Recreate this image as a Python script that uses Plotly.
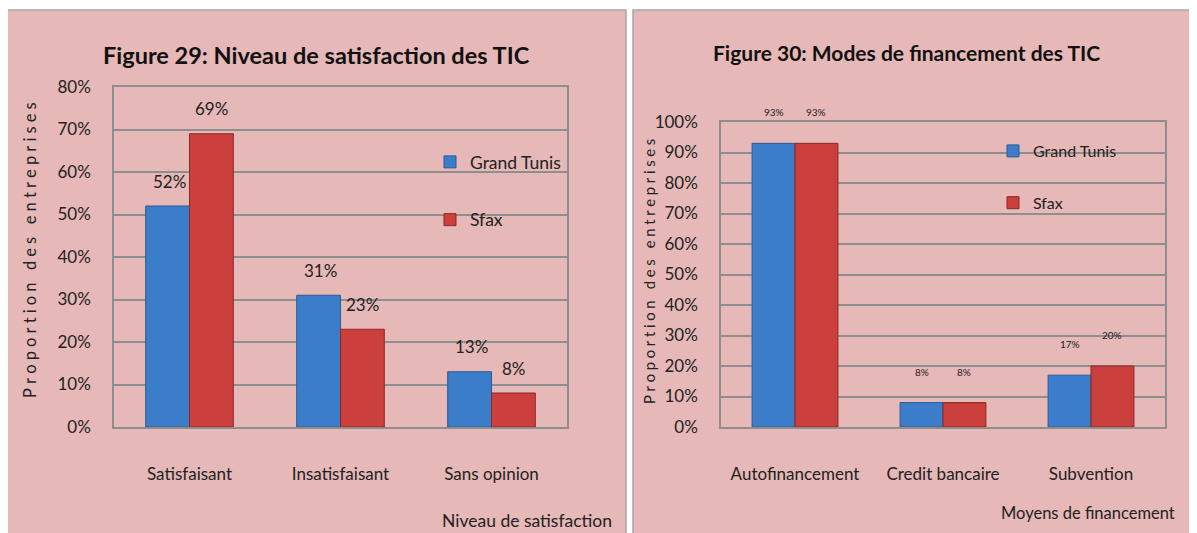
import plotly.graph_objects as go

W, H = 1197, 533

# data - figure 29
cats_sat = ['Satisfaisant', 'Insatisfaisant', 'Sans opinion']
gt_sat = [52, 31, 13]
sfax_sat = [69, 23, 8]

# data - figure 30
cats_fin = ['Autofinancement', 'Credit bancaire', 'Subvention']
gt_fin = [93, 8, 17]
sfax_fin = [93, 8, 20]

blue = '#3c7dca'
blue_edge = '#2a5a96'
red = '#cb3f3c'
red_edge = '#8c2725'
font = 'Lato'

# page body has an 8px margin, compensate so the picture lines up
OFF = 8


def px_x(v):
    return (v - OFF) / W


def px_y(v):
    return 1 - (v - OFF) / H


def spaced(s):
    return '\u2005'.join(s)


fig = go.Figure()

fig.add_trace(go.Bar(x=cats_sat, y=gt_sat, name='Grand Tunis', marker_color=blue,
                     marker_line=dict(color=blue_edge, width=1), xaxis='x', yaxis='y',
                     legend='legend', legendgroup='a'))
fig.add_trace(go.Bar(x=cats_sat, y=sfax_sat, name='Sfax', marker_color=red,
                     marker_line=dict(color=red_edge, width=1), xaxis='x', yaxis='y',
                     legend='legend', legendgroup='b'))
fig.add_trace(go.Bar(x=cats_fin, y=gt_fin, name='Grand Tunis', marker_color=blue,
                     marker_line=dict(color=blue_edge, width=1), xaxis='x2', yaxis='y2',
                     legend='legend2', legendgroup='c'))
fig.add_trace(go.Bar(x=cats_fin, y=sfax_fin, name='Sfax', marker_color=red,
                     marker_line=dict(color=red_edge, width=1), xaxis='x2', yaxis='y2',
                     legend='legend2', legendgroup='d'))

# value labels above bars
ann = []
for c, g, s in zip(cats_sat, gt_sat, sfax_sat):
    ann.append(dict(x=c, y=g, xref='x', yref='y', text=f'{g}%', showarrow=False,
                    xshift=-20, yshift=25, font=dict(size=17, color='#222')))
    ann.append(dict(x=c, y=s, xref='x', yref='y', text=f'{s}%', showarrow=False,
                    xshift=22, yshift=25, font=dict(size=17, color='#222')))
for c, g, s in zip(cats_fin, gt_fin, sfax_fin):
    ann.append(dict(x=c, y=g, xref='x2', yref='y2', text=f'{g}%', showarrow=False,
                    xshift=-21, yshift=31, font=dict(size=10, color='#222')))
    ann.append(dict(x=c, y=s, xref='x2', yref='y2', text=f'{s}%', showarrow=False,
                    xshift=21, yshift=31, font=dict(size=10, color='#222')))

# titles
ann.append(dict(x=px_x(316), y=px_y(55), xref='paper', yref='paper', showarrow=False,
                xanchor='center', yanchor='middle',
                text='<b>Figure 29: Niveau de satisfaction des TIC</b>',
                font=dict(size=23.5, color='#111')))
ann.append(dict(x=px_x(906), y=px_y(53), xref='paper', yref='paper', showarrow=False,
                xanchor='center', yanchor='middle',
                text='<b>Figure 30: Modes de financement des TIC</b>',
                font=dict(size=21, color='#111')))
# axis titles
ann.append(dict(x=px_x(30), y=px_y(250), xref='paper', yref='paper', showarrow=False,
                xanchor='center', yanchor='middle',
                text=spaced('Proportion des entreprises'), textangle=-90,
                font=dict(size=16.5, color='#222')))
ann.append(dict(x=px_x(649), y=px_y(272), xref='paper', yref='paper', showarrow=False,
                xanchor='center', yanchor='middle',
                text=spaced('Proportion des entreprises'), textangle=-90,
                font=dict(size=14.8, color='#222')))
ann.append(dict(x=px_x(614), y=px_y(520), xref='paper', yref='paper', showarrow=False,
                xanchor='right', yanchor='middle', text='Niveau de satisfaction',
                font=dict(size=17.5, color='#222')))
ann.append(dict(x=px_x(1177), y=px_y(513), xref='paper', yref='paper', showarrow=False,
                xanchor='right', yanchor='middle', text='Moyens de financement',
                font=dict(size=16.5, color='#222')))

grid = '#8e8e8e'
axis_common = dict(showline=True, linecolor=grid, linewidth=1.5, mirror=True,
                   automargin=False, tickfont=dict(size=17, color='#222'))

fig.update_layout(
    width=W, height=H,
    margin=dict(l=0, r=0, t=0, b=0, autoexpand=False),
    paper_bgcolor='white',
    plot_bgcolor='#f2dcdb',
    font=dict(family=font, color='#222'),
    barmode='group', bargap=0.42, bargroupgap=0,
    annotations=ann,
    xaxis=dict(domain=[px_x(114), px_x(567)], anchor='y', showgrid=False,
               ticks='', ticklabelstandoff=31, **axis_common),
    yaxis=dict(domain=[px_y(427), px_y(87)], anchor='x', range=[0, 80], dtick=10,
               ticksuffix='%', showgrid=True, gridcolor=grid, gridwidth=1.5,
               ticks='', ticklabelstandoff=18, zeroline=False, **axis_common),
    xaxis2=dict(domain=[px_x(721), px_x(1165)], anchor='y2', showgrid=False,
                ticks='', ticklabelstandoff=31, **axis_common),
    yaxis2=dict(domain=[px_y(427), px_y(122)], anchor='x2', range=[0, 100], dtick=10,
                ticksuffix='%', showgrid=True, gridcolor=grid, gridwidth=1.5,
                ticks='', ticklabelstandoff=18, zeroline=False, **axis_common),
    legend=dict(x=px_x(430), y=px_y(144), xanchor='left', yanchor='top',
                bgcolor='rgba(0,0,0,0)', font=dict(size=17.5), tracegroupgap=32,
                itemwidth=30),
    legend2=dict(x=px_x(993), y=px_y(134), xanchor='left', yanchor='top',
                 bgcolor='rgba(0,0,0,0)', font=dict(size=16), tracegroupgap=28,
                 itemwidth=30),
    shapes=[
        dict(type='rect', xref='paper', yref='paper', layer='below',
             x0=px_x(5), x1=px_x(626), y0=px_y(560), y1=px_y(10),
             fillcolor='#e6b8b7', line=dict(color='#a6a6a6', width=1.5)),
        dict(type='rect', xref='paper', yref='paper', layer='below',
             x0=px_x(633), x1=px_x(1220), y0=px_y(560), y1=px_y(10),
             fillcolor='#e6b8b7', line=dict(color='#a6a6a6', width=1.5)),
    ],
)

fig.write_html('out.html')
